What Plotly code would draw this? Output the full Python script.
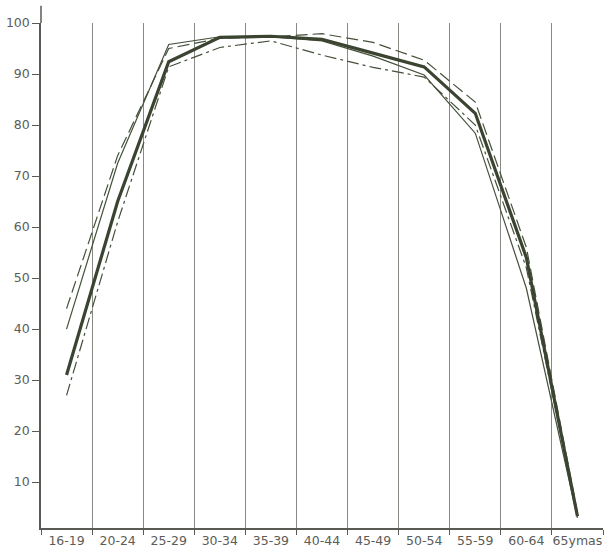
import plotly.graph_objects as go

categories = ["16-19", "20-24", "25-29", "30-34", "35-39", "40-44",
              "45-49", "50-54", "55-59", "60-64", "65ymas"]

thick_solid = [31, 65, 92.4, 97.2, 97.4, 96.8, 94.1, 91.4, 82.3, 54, 3.3]
thin_solid = [40, 72.5, 95.8, 97.3, 97.3, 96.5, 93.5, 89.8, 78.4, 48, 3]
long_dash = [44, 74, 95, 97, 97.3, 97.9, 96.2, 92.7, 84.5, 56, 4]
dash_dot = [27, 61, 91.4, 95.2, 96.5, 93.7, 91.3, 89.4, 80, 52, 3.5]

y_ticks = [10, 20, 30, 40, 50, 60, 70, 80, 90, 100]
y_tick_labels = ["10", "20", "30", "40", "50", "60", "70", "80", "90", "100"]

line_col = "#44503a"
axis_col = "#5a5a55"
grid_col = "#8a8a85"
text_col = "#5c5c58"

fig = go.Figure()
fig.add_trace(go.Scatter(x=categories, y=thin_solid, mode="lines",
                         line=dict(color=line_col, width=1.2), showlegend=False))
fig.add_trace(go.Scatter(x=categories, y=long_dash, mode="lines",
                         line=dict(color=line_col, width=1.2, dash="12px,5px"), showlegend=False))
fig.add_trace(go.Scatter(x=categories, y=dash_dot, mode="lines",
                         line=dict(color=line_col, width=1.2, dash="12px,4px,3px,4px"), showlegend=False))
fig.add_trace(go.Scatter(x=categories, y=thick_solid, mode="lines",
                         line=dict(color="#3a4430", width=3.2), showlegend=False))

fig.update_layout(
    width=608, height=552,
    margin=dict(l=41, r=5, t=23, b=24),
    paper_bgcolor="white", plot_bgcolor="white",
    font=dict(family="DejaVu Sans, sans-serif", size=12.5, color=text_col),
    xaxis=dict(
        type="category", tickson="boundaries",
        showgrid=True, gridcolor=grid_col, gridwidth=1,
        showline=True, linecolor=axis_col, linewidth=1.5,
        ticks="outside", ticklen=5, tickcolor=axis_col,
        tickangle=0, automargin=False, tickfont=dict(size=12.5),
        range=[-0.5, 10.5], zeroline=False,
    ),
    yaxis=dict(
        range=[1, 100], tickvals=y_ticks, ticktext=y_tick_labels,
        showgrid=False, zeroline=False, automargin=False,
        showline=True, linecolor=axis_col, linewidth=1.5,
        ticks="outside", ticklen=7, tickcolor=axis_col,
    ),
    shapes=[dict(type="line", xref="paper", yref="paper",
                 x0=0, x1=0, y0=1, y1=1.034,
                 line=dict(color=axis_col, width=1.5))],
)

fig.write_html("out.html",
               config={"displayModeBar": False},
               post_script="document.body.style.margin='0';document.body.style.overflow='hidden';")
